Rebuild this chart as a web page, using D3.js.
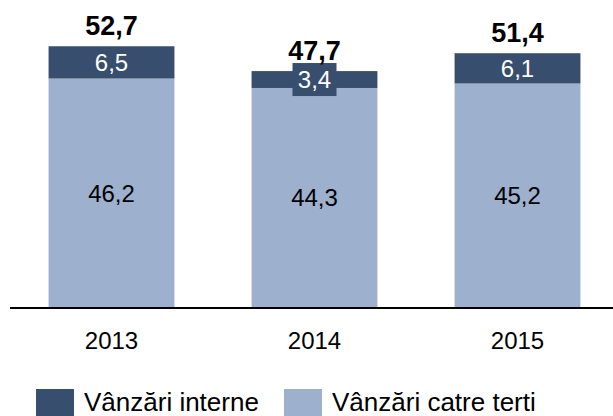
<!DOCTYPE html>
<html>
<head>
<meta charset="utf-8">
<script src="https://cdn.jsdelivr.net/npm/d3@7"></script>
<style>
  body { margin: 0; background: #fff; }
  svg text { font-family: "Liberation Sans", Arial, sans-serif; }
</style>
</head>
<body>
<svg width="613" height="416"></svg>
<script>
// valorile
var ani = ["2013", "2014", "2015"];
var vanzariInterne = [6.5, 3.4, 6.1];
var vanzariTerti = [46.2, 44.3, 45.2];
var totaluri = [52.7, 47.7, 51.4];
var legenda = ["Vânzări interne", "Vânzări catre terti"];

var culoareInterne = "#374e6e";
var culoareTerti = "#9db0ce";

var svg = d3.select("svg");
var width = 613, height = 416;

var ro = d3.formatLocale({ decimal: ",", thousands: ".", grouping: [3], currency: ["", " lei"] });
var fmt = ro.format(".1f");

var x = d3.scaleBand()
    .domain(ani)
    .range([10, 619])
    .paddingInner(0.38)
    .paddingOuter(0.19);

var y = d3.scaleLinear()
    .domain([0, 60])
    .range([308, 10]);

var date = ani.map(function(an, i) {
  return { an: an, terti: vanzariTerti[i], interne: vanzariInterne[i], total: totaluri[i] };
});

var g = svg.append("g");

// segmentul de jos - vanzari catre terti
g.selectAll("rect.terti")
    .data(date)
    .enter().append("rect")
    .attr("class", "terti")
    .attr("x", function(d) { return x(d.an); })
    .attr("y", function(d) { return y(d.terti); })
    .attr("width", x.bandwidth())
    .attr("height", function(d) { return y(0) - y(d.terti); })
    .attr("fill", culoareTerti);

// segmentul de sus - vanzari interne
g.selectAll("rect.interne")
    .data(date)
    .enter().append("rect")
    .attr("class", "interne")
    .attr("x", function(d) { return x(d.an); })
    .attr("y", function(d) { return y(d.terti + d.interne); })
    .attr("width", x.bandwidth())
    .attr("height", function(d) { return y(d.terti) - y(d.terti + d.interne); })
    .attr("fill", culoareInterne);

// etichete terti
g.selectAll("text.terti")
    .data(date)
    .enter().append("text")
    .attr("x", function(d) { return x(d.an) + x.bandwidth() / 2; })
    .attr("y", function(d) { return (y(0) + y(d.terti)) / 2; })
    .attr("dy", "0.35em")
    .attr("text-anchor", "middle")
    .attr("font-size", 24)
    .attr("fill", "#000")
    .text(function(d) { return fmt(d.terti); });

// etichete interne (cu fundal cand segmentul e prea subtire)
date.forEach(function(d) {
  var cx = x(d.an) + x.bandwidth() / 2;
  var cy = (y(d.terti) + y(d.terti + d.interne)) / 2;
  var h = y(d.terti) - y(d.terti + d.interne);
  if (h < 25) {
    g.append("rect")
        .attr("x", cx - 22)
        .attr("y", cy - 16.5)
        .attr("width", 44)
        .attr("height", 33)
        .attr("fill", culoareInterne);
  }
  g.append("text")
      .attr("x", cx)
      .attr("y", cy)
      .attr("dy", "0.35em")
      .attr("text-anchor", "middle")
      .attr("font-size", 24)
      .attr("fill", "#fff")
      .text(fmt(d.interne));
});

// totaluri
g.selectAll("text.total")
    .data(date)
    .enter().append("text")
    .attr("x", function(d) { return x(d.an) + x.bandwidth() / 2; })
    .attr("y", function(d) { return y(d.total) - 11; })
    .attr("text-anchor", "middle")
    .attr("font-size", 27)
    .attr("font-weight", "bold")
    .attr("fill", "#000")
    .text(function(d) { return fmt(d.total); });

// axa x
svg.append("line")
    .attr("x1", 10)
    .attr("x2", width)
    .attr("y1", y(0))
    .attr("y2", y(0))
    .attr("stroke", "#000")
    .attr("stroke-width", 2);

g.selectAll("text.an")
    .data(ani)
    .enter().append("text")
    .attr("x", function(d) { return x(d) + x.bandwidth() / 2; })
    .attr("y", 349)
    .attr("text-anchor", "middle")
    .attr("font-size", 24)
    .attr("fill", "#000")
    .text(function(d) { return d; });

// legenda
var culori = [culoareInterne, culoareTerti];
var pozLegenda = [36, 284];
var leg = svg.append("g").selectAll("g")
    .data(legenda)
    .enter().append("g")
    .attr("transform", function(d, i) { return "translate(" + pozLegenda[i] + ",389)"; });

leg.append("rect")
    .attr("width", 38)
    .attr("height", 30)
    .attr("fill", function(d, i) { return culori[i]; });

leg.append("text")
    .attr("x", 48)
    .attr("y", 22)
    .attr("font-size", 26)
    .attr("fill", "#000")
    .text(function(d) { return d; });
</script>
</body>
</html>
